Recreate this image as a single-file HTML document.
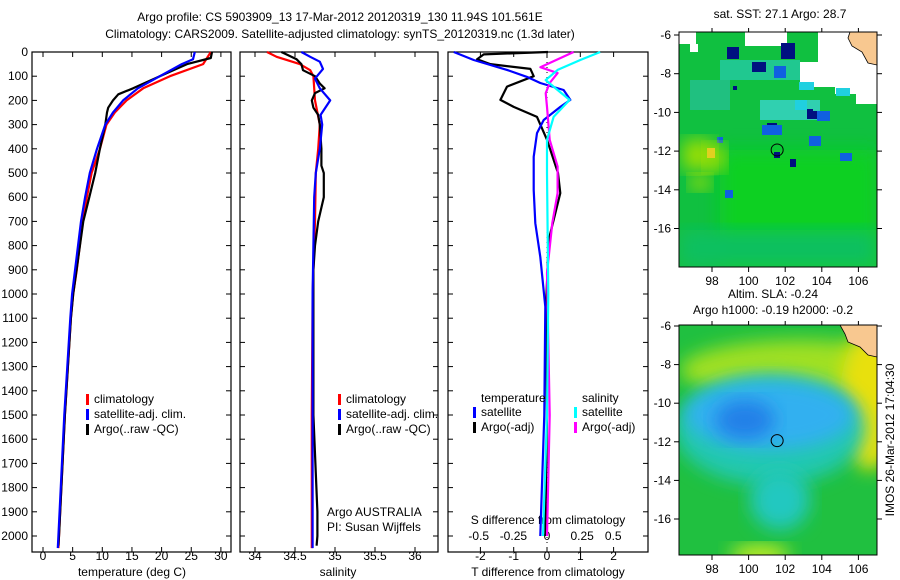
<!DOCTYPE html>
<html><head><meta charset="utf-8"><style>
html,body{margin:0;padding:0;background:#fff;}
svg{display:block;font-family:"Liberation Sans",sans-serif;font-size:12px;}
</style></head><body>
<svg id="c" width="900" height="580" viewBox="0 0 900 580">
<defs>
<filter id="bl" x="-20%" y="-20%" width="140%" height="140%"><feGaussianBlur stdDeviation="9"/></filter>
<clipPath id="cm1"><rect x="679" y="32" width="198" height="235"/></clipPath>
<clipPath id="cm2"><rect x="679" y="325" width="198" height="230"/></clipPath>
</defs>
<text x="340" y="21" text-anchor="middle">Argo profile: CS 5903909_13 17-Mar-2012 20120319_130 11.94S 101.561E</text>
<text x="340" y="38" text-anchor="middle">Climatology: CARS2009. Satellite-adjusted climatology: synTS_20120319.nc (1.3d later)</text>
<g id="g"></g>
</svg>
<script>
// ---- data ----
const tClimDepth=[0,50,100,150,200,250,300,400,500,600,700,800,900,1000,1100,1500,2000,2050];
const tClim=[28.3,27,21.4,16.9,14.1,12.1,10.7,9.6,8.2,7.4,6.7,6.2,5.7,5.1,4.7,3.7,2.7,2.6];
const tArgoDepth=[0,25,50,100,150,175,200,230,250,300,400,500,600,700,1000,1100,1500,2000,2040];
const tArgo=[28.5,28.3,24.3,19.7,15.2,12.7,11.8,11,10.8,10.5,9.6,8.8,7.8,6.8,5.1,4.7,3.7,2.7,2.6];
const tSatDepth=[0,30,50,100,150,200,250,300,400,500,600,700,1000,1100,1500,2000,2050];
const tSat=[25.6,25.3,23.4,19.7,16,13.5,11.8,10.5,9.1,7.9,7.1,6.4,4.9,4.6,3.6,2.6,2.5];
const sClimDepth=[0,20,50,75,100,200,300,400,500,700,1000,1500,2000,2050];
const sClim=[34.15,34.27,34.56,34.69,34.73,34.75,34.81,34.79,34.76,34.75,34.72,34.71,34.71,34.71];
const sArgoDepth=[0,30,50,75,100,130,150,170,200,230,260,300,400,470,500,600,700,800,900,1000,1500,1900,2000,2040];
const sArgo=[34.33,34.52,34.58,34.6,34.75,34.81,34.87,34.75,34.71,34.73,34.79,34.81,34.83,34.83,34.86,34.86,34.79,34.75,34.73,34.73,34.73,34.78,34.78,34.77];
const sSatDepth=[0,20,40,70,110,150,200,260,300,400,500,600,800,1000,2000,2050];
const sSat=[34.58,34.69,34.81,34.85,34.75,34.81,34.94,34.82,34.84,34.81,34.76,34.74,34.73,34.72,34.72,34.72];
const dTArgoDepth=[0,10,30,50,70,100,143,198,227,268,363,500,583,666,777,1053,1500,2000];
const dTArgo=[0.03,-1.9,-2.1,-1.7,-0.5,-0.4,-1.2,-1.4,-1.0,-0.3,0,0.33,0.4,0.25,0.05,-0.03,0,-0.05];
const dTSatDepth=[0,33,74,103,128,157,198,227,281,335,433,570,707,847,1053,1500,2000];
const dTSat=[-2.8,-2.2,-1.2,-0.6,-0.2,0.5,0.7,0.4,-0.1,-0.3,-0.4,-0.4,-0.35,-0.2,-0.05,-0.08,-0.2];
const dSSatDepth=[0,33,74,116,157,198,268,363,500,1000,1500,2000];
const dSSat=[0.40,0.25,0.08,-0.01,0.08,0.17,0.05,0.0,0.0,0.01,0.0,-0.03];
const dSArgoDepth=[0,63,87,128,170,227,363,473,583,707,913,1500,2000];
const dSArgo=[0.2,-0.05,0.08,0.02,-0.01,0,0.02,0.08,0.08,0.04,0,0.02,0.0];
const depthTicks=[0,100,200,300,400,500,600,700,800,900,1000,1100,1200,1300,1400,1500,1600,1700,1800,1900,2000];
const tTicks=[0,5,10,15,20,25,30];
const sTicks=[34,34.5,35,35.5,36];
const dTTicks=[-2,-1,0,1,2];
const dSTickLabels=["-0.5","-0.25","0","0.25","0.5"];
const dSTicks=[-0.5,-0.25,0,0.25,0.5];
const lonTicks=[98,100,102,104,106];
const latTicks=[-6,-8,-10,-12,-14,-16];

// ---- helpers ----
const NS="http://www.w3.org/2000/svg";
const G=document.getElementById('g');
function mk(tag,attrs,parent){const e=document.createElementNS(NS,tag);for(const k in attrs)e.setAttribute(k,attrs[k]);(parent||G).appendChild(e);return e;}
function txt(x,y,s,anchor,name){const e=mk('text',{x:x,y:y,'text-anchor':anchor||'start'});e.textContent=s;

return e;}
const Y0=52,YS=0.242;
const yD=d=>Y0+d*YS;
const xT=t=>43+t*5.93;
const xS=s=>255+(s-34)*80;
const xDT=d=>547+d*33.3;
const xDS=d=>547+d*133;
function line(xs,ds,fx,color,name){
  const p=ds.map((d,i)=>fx(xs[i]).toFixed(1)+','+yD(d).toFixed(1)).join(' ');
  const e=mk('polyline',{points:p,fill:'none',stroke:color,'stroke-width':2.2,'stroke-linejoin':'round'});
  
  
}
function frame(x,w,name){const e=mk('rect',{x:x,y:52,width:w,height:500,fill:'none',stroke:'#000','stroke-width':1.2});


 depthTicks.forEach(d=>{mk('line',{x1:x,x2:x+5,y1:yD(d),y2:yD(d),stroke:'#000'});mk('line',{x1:x+w-5,x2:x+w,y1:yD(d),y2:yD(d),stroke:'#000'});});}
function xticks(vals,fx,labels,y){vals.forEach((v,i)=>{const x=fx(v);mk('line',{x1:x,x2:x,y1:52,y2:57,stroke:'#000'});mk('line',{x1:x,x2:x,y1:547,y2:552,stroke:'#000'});
 if(labels)txt(x,y,labels[i],'middle','x-tick-label');});}

// panel 1 temperature
frame(32,199,'temperature-panel');
depthTicks.forEach(d=>txt(28,yD(d)+4,String(d),'end','depth-tick-label'));
xticks(tTicks,xT,tTicks.map(String),560);
txt(132,576,'temperature (deg C)','middle','temperature-axis-title');
line(tClim,tClimDepth,xT,'#f00','temp-climatology-line');
line(tArgo,tArgoDepth,xT,'#000','temp-argo-line');
line(tSat,tSatDepth,xT,'#00f','temp-satellite-line');
// panel 2 salinity
frame(240,198,'salinity-panel');
xticks(sTicks,xS,['34','34.5','35','35.5','36'],560);
txt(338,576,'salinity','middle','salinity-axis-title');
line(sClim,sClimDepth,xS,'#f00','sal-climatology-line');
line(sArgo,sArgoDepth,xS,'#000','sal-argo-line');
line(sSat,sSatDepth,xS,'#00f','sal-satellite-line');
// panel 3 difference
frame(448,200,'difference-panel');
xticks(dTTicks,xDT,dTTicks.map(String),560);
dSTicks.forEach((v,i)=>txt(xDS(v)*0.5+[477,513,547,584,613][i]*0.5,540,dSTickLabels[i],'middle','s-diff-tick-label'));
txt(548,576,'T difference from climatology','middle','t-diff-axis-title');
txt(548,524,'S difference from climatology','middle','s-diff-axis-title');
mk('line',{x1:547,x2:547,y1:52,y2:552,stroke:'#000','stroke-dasharray':'1,4'});
line(dTArgo,dTArgoDepth,xDT,'#000','tdiff-argo-line');
line(dTSat,dTSatDepth,xDT,'#00f','tdiff-satellite-line');
line(dSArgo,dSArgoDepth,xDS,'#f0f','sdiff-argo-line');
line(dSSat,dSSatDepth,xDS,'#0ff','sdiff-satellite-line');

// legends
function leg(x,y,c,s,name){mk('rect',{x:x,y:y-9,width:3,height:11,fill:c});txt(x+8,y,s,'start',name);}
[[32+54,'temp'],[338,'sal']].forEach(([lx,p])=>{leg(lx,403,'#f00','climatology',p+'-legend-climatology');leg(lx,418,'#00f','satellite-adj. clim.',p+'-legend-satellite');leg(lx,433,'#000','Argo(..raw -QC)',p+'-legend-argo');});
txt(481,402,'temperature','start','legend-temperature-header');
leg(473,416,'#00f','satellite','legend-t-satellite');
leg(473,431,'#000','Argo(-adj)','legend-t-argo');
txt(582,402,'salinity','start','legend-salinity-header');
leg(574,416,'#0ff','satellite','legend-s-satellite');
leg(574,431,'#f0f','Argo(-adj)','legend-s-argo');
txt(327,516,'Argo AUSTRALIA','start','agency-label');
txt(327,531,'PI: Susan Wijffels','start','pi-label');

// maps
const mx=lon=>712+(lon-98)*18.3;
function mapAxes(top,bot,ylat,name){
  const r=mk('rect',{x:679,y:top,width:198,height:bot-top,fill:'none',stroke:'#000','stroke-width':1});
  
  
  lonTicks.forEach(l=>{mk('line',{x1:mx(l),x2:mx(l),y1:bot,y2:bot+5,stroke:'#000'});mk('line',{x1:mx(l),x2:mx(l),y1:top-4,y2:top,stroke:'#000'});txt(mx(l),bot+18,String(l),'middle','lon-tick-label');});
  latTicks.forEach(l=>{const y=ylat(l);mk('line',{x1:674,x2:679,y1:y,y2:y,stroke:'#000'});mk('line',{x1:877,x2:882,y1:y,y2:y,stroke:'#000'});txt(671,y+4,String(l),'end','lat-tick-label');});
}
const y1=lat=>35+(-6-lat)*19.35;
const y2=lat=>326+(-6-lat)*19.3;
// SST map
const m1=mk('g',{'clip-path':'url(#cm1)'});


mk('rect',{x:679,y:32,width:198,height:235,fill:'#10c040'},m1);
mk('rect',{x:720,y:150,width:157,height:117,fill:'#08d020',filter:'url(#bl)'},m1);
mk('rect',{x:679,y:230,width:198,height:37,fill:'#10c060',filter:'url(#bl)'},m1);
[[720,60,80,20,'#20c890'],[690,80,40,30,'#20c080'],[760,100,60,20,'#30d0b0']].forEach(r=>mk('rect',{x:r[0],y:r[1],width:r[2],height:r[3],fill:r[4]},m1));
[[679,32,17,12],[745,32,42,14],[818,32,59,38],[800,62,77,25],[835,80,42,14],[856,84,21,20],[690,44,8,8]].forEach(r=>mk('rect',{x:r[0],y:r[1],width:r[2],height:r[3],fill:'#fff'},m1));
[[727,47,12,12],[781,43,14,16],[752,62,14,10],[807,109,6,10],[813,111,13,8],[767,123,10,8],[733,86,4,4],[774,152,6,6],[790,159,6,8]].forEach(r=>mk('rect',{x:r[0],y:r[1],width:r[2],height:r[3],fill:'#001080'},m1));
[[774,66,12,12],[817,111,13,10],[762,125,20,10],[809,136,12,10],[717,137,6,6],[840,153,12,8],[725,190,8,8]].forEach(r=>mk('rect',{x:r[0],y:r[1],width:r[2],height:r[3],fill:'#1060e0'},m1));
[[799,82,15,8],[836,88,14,8],[795,100,12,10]].forEach(r=>mk('rect',{x:r[0],y:r[1],width:r[2],height:r[3],fill:'#20d0e0'},m1));
[[683,140,30,30],[705,145,20,25],[690,175,20,15]].forEach(r=>mk('rect',{x:r[0],y:r[1],width:r[2],height:r[3],fill:'#a0e000',filter:'url(#bl)'},m1));
mk('rect',{x:707,y:148,width:8,height:10,fill:'#e0d020'},m1);
mk('path',{d:'M850 32 L877 32 L877 65 L868 63 L862 52 L852 46 L848 38 Z',fill:'#f8c890',stroke:'#000','stroke-width':0.8},m1);
mapAxes(32,267,y1,'sst-map-frame');
const c1=mk('circle',{cx:mx(101.56),cy:y1(-11.94),r:6,fill:'none',stroke:'#000'});


txt(780,18,'sat. SST: 27.1  Argo: 28.7','middle','sst-map-title');
// SLA map
const m2=mk('g',{'clip-path':'url(#cm2)'});


mk('rect',{x:679,y:325,width:198,height:230,fill:'#20c040'},m2);
mk('ellipse',{cx:800,cy:370,rx:120,ry:30,fill:'#a0e020',filter:'url(#bl)'},m2);
mk('ellipse',{cx:870,cy:400,rx:30,ry:70,fill:'#e8e010',filter:'url(#bl)'},m2);
mk('ellipse',{cx:770,cy:430,rx:95,ry:55,fill:'#20c8b0',filter:'url(#bl)'},m2);
mk('ellipse',{cx:770,cy:415,rx:85,ry:35,fill:'#30b0f0',filter:'url(#bl)'},m2);
mk('ellipse',{cx:745,cy:420,rx:30,ry:20,fill:'#2080e8',filter:'url(#bl)'},m2);
mk('ellipse',{cx:780,cy:500,rx:30,ry:30,fill:'#20c8c0',filter:'url(#bl)'},m2);
mk('ellipse',{cx:760,cy:555,rx:30,ry:10,fill:'#d0f020',filter:'url(#bl)'},m2);
mk('path',{d:'M840 325 L877 325 L877 357 L868 355 L860 347 L848 342 L845 334 Z',fill:'#f8c890',stroke:'#000','stroke-width':0.8},m2);
mapAxes(325,555,y2,'sla-map-frame');
const c2=mk('circle',{cx:mx(101.56),cy:y2(-11.94),r:6,fill:'none',stroke:'#000'});


txt(773,298,'Altim. SLA: -0.24','middle','sla-map-title');
txt(773,314,'Argo h1000: -0.19 h2000: -0.2','middle','sla-map-subtitle');
const r=txt(0,0,'IMOS 26-Mar-2012 17:04:30','middle','imos-timestamp');
r.setAttribute('transform','translate(894,440) rotate(-90)');
</script>
</body></html>
